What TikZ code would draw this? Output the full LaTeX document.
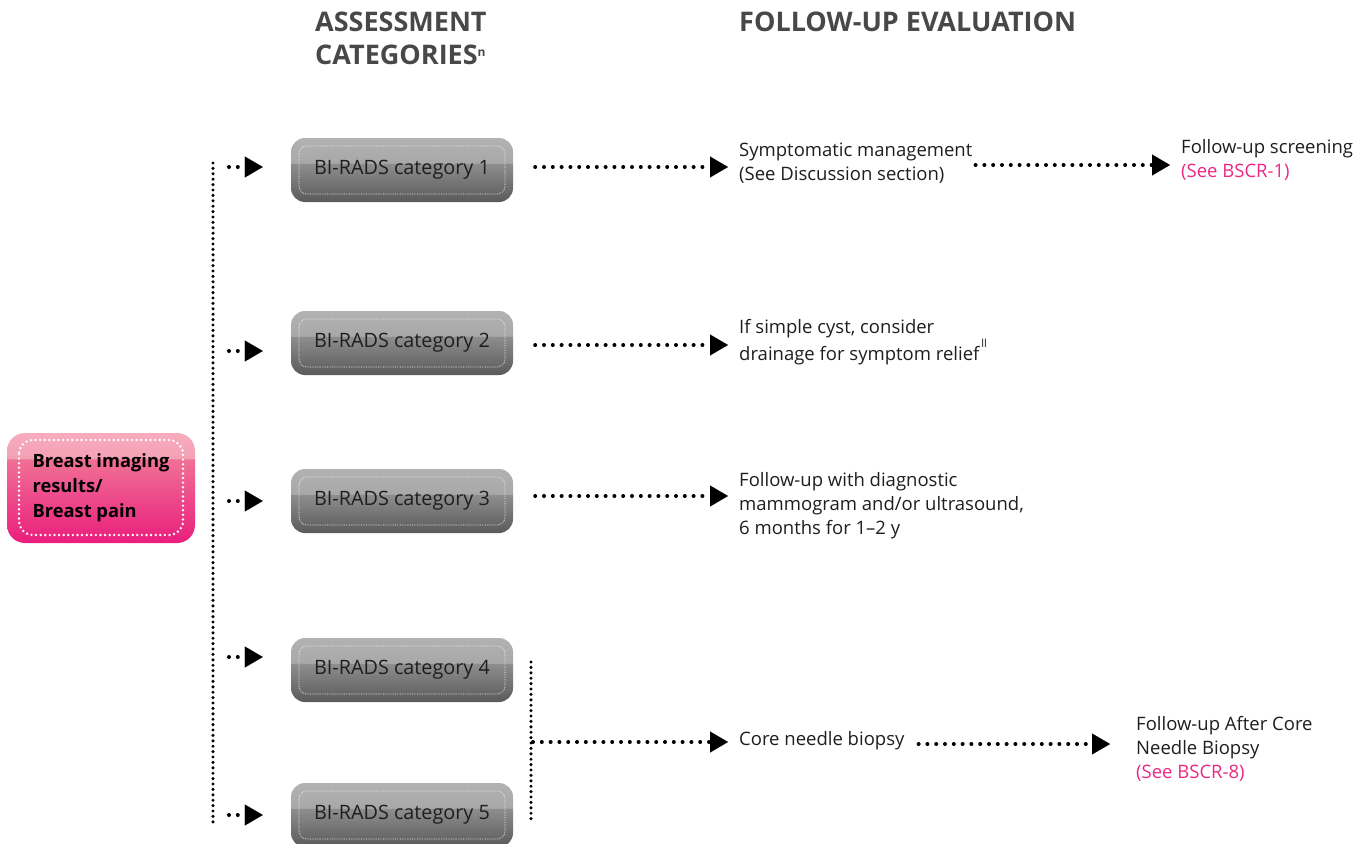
\documentclass[tikz,border=0pt]{standalone}
\usepackage{fontspec}
\setmainfont{Open Sans}
\usetikzlibrary{arrows.meta,calc}
\definecolor{pinktxt}{RGB}{236,40,130}
\definecolor{hdr}{RGB}{72,72,72}
\definecolor{gtop}{RGB}{178,178,178}
\definecolor{gtopb}{RGB}{168,168,168}
\definecolor{gmid}{RGB}{142,142,142}
\definecolor{gbot}{RGB}{90,90,90}
\definecolor{ptop}{RGB}{247,172,188}
\definecolor{ptopb}{RGB}{244,160,180}
\definecolor{pmid}{RGB}{240,112,150}
\definecolor{pbot}{RGB}{234,30,124}
\definecolor{txt}{RGB}{30,30,30}
\pgfdeclareverticalshading{grayshade}{100bp}{color(0bp)=(gbot); color(25bp)=(gbot); color(55bp)=(gmid); color(55.5bp)=(gtopb); color(75bp)=(gtop); color(100bp)=(gtop)}
\pgfdeclareverticalshading{pinkshade}{100bp}{color(0bp)=(pbot); color(25bp)=(pbot); color(63bp)=(pmid); color(63.5bp)=(ptopb); color(75bp)=(ptop); color(100bp)=(ptop)}
\tikzset{
  every node/.style={inner sep=0pt},
  bodytext/.style={font=\fontsize{18.5}{24}\selectfont, text=txt, align=left, anchor=west},
  hdrtext/.style={font=\fontsize{27}{33}\selectfont\bfseries, text=hdr, align=left, anchor=west},
  catbox/.style={rectangle, rounded corners=14pt, minimum width=222pt, minimum height=64pt,
    shading=grayshade, font=\fontsize{19.8}{24}\selectfont, text=txt,
    path picture={\draw[white!90!gray, line width=0.7pt, densely dotted, rounded corners=8pt]
      ([shift={(8pt,-8pt)}]path picture bounding box.north west) rectangle
      ([shift={(-8pt,8pt)}]path picture bounding box.south east);}},
  srcbox/.style={rectangle, rounded corners=18pt, minimum width=188pt, minimum height=110pt,
    shading=pinkshade, font=\fontsize{18.3}{25}\selectfont\bfseries, text=black, align=left,
    path picture={\draw[white, line width=2.7pt, line cap=round, dash pattern=on 0pt off 4.6pt, rounded corners=14pt]
      ([shift={(12pt,-7pt)}]path picture bounding box.north west) rectangle
      ([shift={(-12pt,8pt)}]path picture bounding box.south east);}},
  dotarrow/.style={draw, line width=4pt, line cap=round, dash pattern=on 0pt off 8.8pt,
    -{Triangle[length=18pt,width=21pt,line width=0.1pt]}},
  vdots/.style={draw, line width=3.4pt, line cap=round, dash pattern=on 0pt off 5.4pt},
}
\begin{document}
\begin{tikzpicture}[x=1pt,y=-1pt]
\useasboundingbox (0,0) rectangle (1362,843);
\clip (0,0) rectangle (1362,843);

% headers
\node[hdrtext] (h1) at (315,38) {ASSESSMENT\\CATEGORIES\raisebox{8pt}{\fontsize{12}{12}\selectfont n}};
\node[hdrtext] (h2) at (739,22) {FOLLOW-UP EVALUATION};

% source
\node[srcbox] (src) at (101,488) {Breast imaging\\results/\\Breast pain};

% categories
\node[catbox] (c1) at (402,170) {BI-RADS category 1};
\node[catbox] (c2) at (402,343) {BI-RADS category 2};
\node[catbox] (c3) at (402,501) {BI-RADS category 3};
\node[catbox] (c4) at (402,670) {BI-RADS category 4};
\node[catbox] (c5) at (402,815) {BI-RADS category 5};

% outcomes
\node[bodytext] (o1) at (739,163) {Symptomatic management\\(See Discussion section)};
\node[bodytext] (f1) at (1181,160) {Follow-up screening\\\textcolor{pinktxt}{(See BSCR-1)}};
\node[bodytext] (o2) at (739,342) {If simple cyst, consider\\drainage for symptom relief\hspace{2pt}\raisebox{13pt}{\fontsize{11}{11}\selectfont ll}};
\node[bodytext] (o3) at (739,506) {Follow-up with diagnostic\\mammogram and/or ultrasound,\\6 months for 1–2 y};
\node[bodytext] (cnb) at (739,741) {Core needle biopsy};
\node[bodytext] (f2) at (1136,749) {Follow-up After Core\\Needle Biopsy\\\textcolor{pinktxt}{(See BSCR-8)}};

% vertical dotted lines
\coordinate (vt) at (213,163);
\coordinate (vb) at (213,822);
\coordinate (rt) at (531,662);
\coordinate (rb) at (531,822);
\draw[vdots] (vt) -- (vb);
\draw[vdots] (rt) -- (rb);

% short arrows into categories
\draw[dotarrow, shorten <=16pt, shorten >=28pt] ([yshift=3pt]c1.west -| vt) -- ([yshift=3pt]c1.west);
\draw[dotarrow, shorten <=16pt, shorten >=28pt] ([yshift=-8pt]c2.west -| vt) -- ([yshift=-8pt]c2.west);
\draw[dotarrow, shorten <=16pt, shorten >=28pt] (c3.west -| vt) -- (c3.west);
\draw[dotarrow, shorten <=16pt, shorten >=28pt] ([yshift=13pt]c4.west -| vt) -- ([yshift=13pt]c4.west);
\draw[dotarrow, shorten <=16pt, shorten >=28pt] (c5.west -| vt) -- (c5.west);

% arrows to outcomes
\draw[dotarrow, shorten <=22pt, shorten >=11pt] ([yshift=3pt]c1.east) -- ([yshift=3pt]c1.east -| o1.west);
\draw[dotarrow, shorten <=22pt, shorten >=11pt] ([yshift=-2pt]c2.east) -- ([yshift=-2pt]c2.east -| o2.west);
\draw[dotarrow, shorten <=22pt, shorten >=11pt] ([yshift=5pt]c3.east) -- ([yshift=5pt]c3.east -| o3.west);
\draw[dotarrow, shorten <=3pt, shorten >=11pt] ([yshift=-2pt]o1.east) -- ([yshift=-2pt]o1.east -| f1.west);
\draw[dotarrow, shorten <=2pt, shorten >=11pt] ([yshift=-1pt]rt |- cnb.west) -- ([yshift=-1pt]cnb.west);
\draw[dotarrow, shorten <=14pt, shorten >=26pt] ([yshift=-3pt]cnb.east) -- ([yshift=-3pt]cnb.east -| f2.west);
\end{tikzpicture}
\end{document}
